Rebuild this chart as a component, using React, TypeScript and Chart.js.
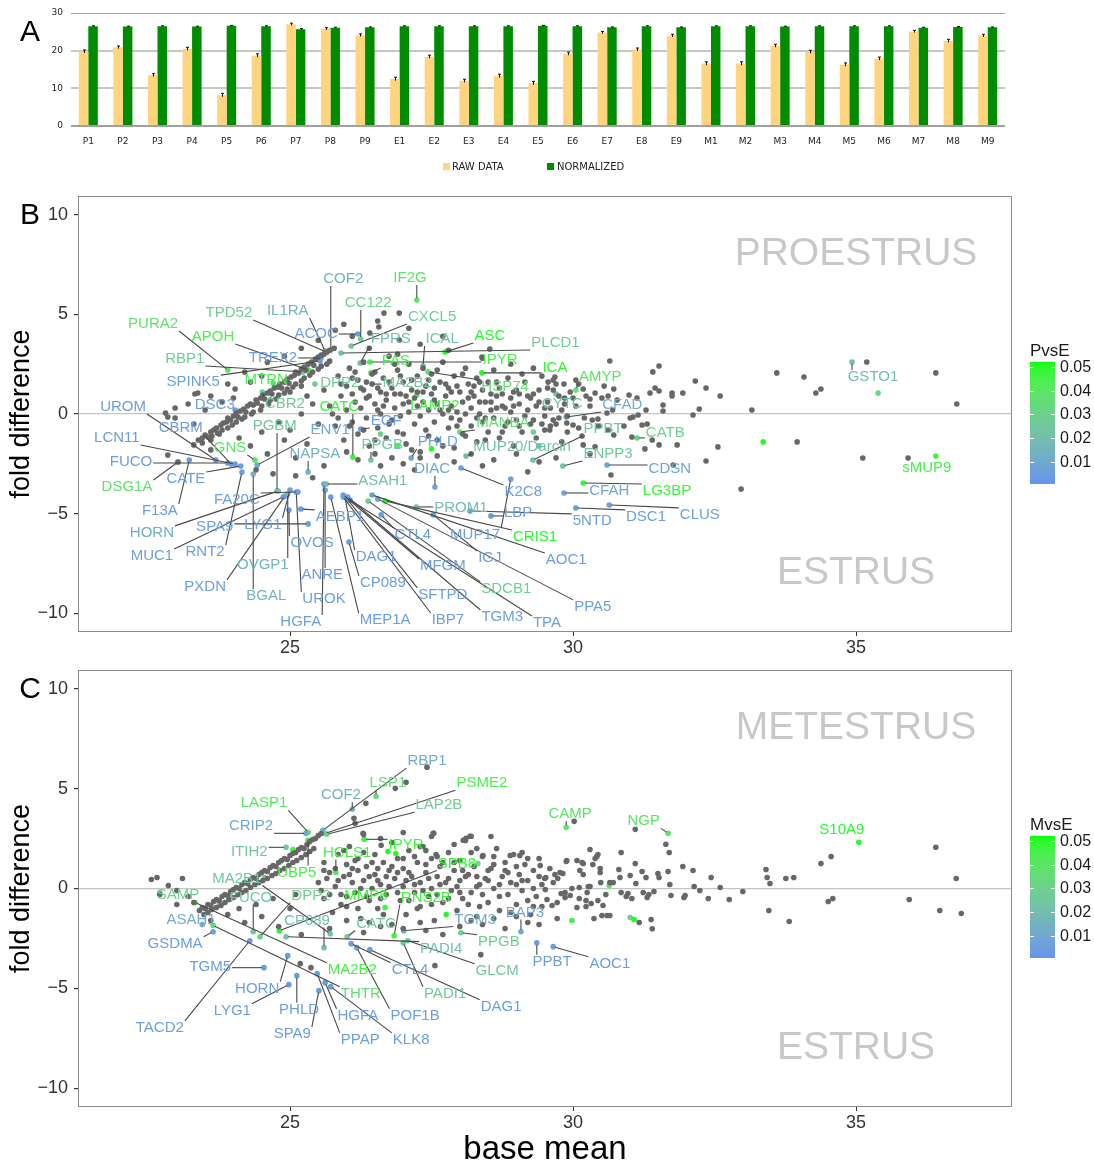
import React, { useEffect, useRef } from 'react';
import { Chart, registerables } from 'chart.js';

Chart.register(...registerables);

// ---------- Panel A: library sizes per sample ----------
const SAMPLES = ['P1', 'P2', 'P3', 'P4', 'P5', 'P6', 'P7', 'P8', 'P9', 'E1', 'E2', 'E3', 'E4', 'E5', 'E6', 'E7', 'E8', 'E9', 'M1', 'M2', 'M3', 'M4', 'M5', 'M6', 'M7', 'M8', 'M9'];
const RAW_DATA = [19.8, 20.9, 13.5, 20.5, 8.2, 18.7, 27.0, 25.8, 24.1, 12.5, 18.4, 12.0, 13.3, 11.4, 19.2, 24.8, 20.3, 24.0, 16.6, 16.6, 21.3, 19.7, 16.3, 17.9, 25.1, 22.6, 24.0];
const RAW_ERR = [0.4, 0.35, 0.4, 0.4, 0.45, 0.45, 0.3, 0.3, 0.35, 0.45, 0.4, 0.4, 0.45, 0.45, 0.4, 0.3, 0.4, 0.35, 0.45, 0.45, 0.4, 0.4, 0.45, 0.4, 0.3, 0.4, 0.35];
const NORMALIZED = [26.5, 26.4, 26.5, 26.4, 26.6, 26.5, 25.7, 26.1, 26.2, 26.5, 26.5, 26.5, 26.5, 26.6, 26.5, 26.2, 26.5, 26.2, 26.5, 26.5, 26.4, 26.5, 26.5, 26.5, 26.1, 26.3, 26.2];
const NORM_ERR = [0.1, 0.1, 0.1, 0.1, 0.1, 0.1, 0.15, 0.12, 0.1, 0.1, 0.1, 0.1, 0.1, 0.1, 0.1, 0.1, 0.1, 0.1, 0.1, 0.1, 0.1, 0.1, 0.1, 0.1, 0.12, 0.1, 0.1];
const A_Y_TICKS = [0, 10, 20, 30];

// ---------- Shared MA-plot axes ----------
const X_MIN = 21.254;
const X_MAX = 37.756;
const Y_MIN = -10.93;
const Y_MAX = 10.93;
const X_TICKS = [25, 30, 35];
const Y_TICKS = [-10, -5, 0, 5, 10];
const P_TICKS = [0.01, 0.02, 0.03, 0.04, 0.05];
const P_RANGE = [0.0008, 0.0521];
const WATERMARK_X = 35;
const WATERMARK_Y = 8;

// ---------- Panel B: proestrus vs estrus ----------
const B_GRAY = [
  [23.30,-1.55],[23.38,-1.30],[23.45,-1.20],[23.50,-1.05],[23.55,-1.15],[23.60,-0.90],[23.65,-0.80],[23.70,-0.70],[23.72,-0.95],[23.78,-0.55],[23.82,-0.45],[23.88,-0.40],[23.90,-0.20],[23.95,-0.30],[24.00,-0.10],[24.05,0.05],[24.08,-0.15],[24.12,0.15],[24.18,0.25],[24.22,0.10],[24.25,0.40],[24.30,0.50],[24.35,0.45],[24.40,0.70],[24.42,0.55],[24.48,0.80],[24.52,0.95],[24.55,0.75],[24.60,1.05],[24.65,1.15],[24.68,1.00],[24.72,1.30],[24.78,1.35],[24.82,1.50],[24.85,1.30],[24.90,1.60],[24.95,1.75],[24.98,1.55],[25.02,1.85],[25.08,1.95],[25.10,2.10],[25.15,2.05],[25.20,2.25],[25.25,2.35],[25.28,2.20],[25.32,2.50],[25.38,2.60],[25.42,2.45],[25.45,2.75],[25.50,2.85],[25.55,2.95],[25.60,3.00],[25.65,3.10],[25.70,3.20],[25.78,3.30],
  [23.60,-1.30],[23.75,-1.00],[23.90,-0.70],[24.05,-0.40],[24.20,-0.15],[24.35,0.10],[24.50,0.40],[24.65,0.70],[24.80,0.95],[24.95,1.25],[25.10,1.50],[25.25,1.80],[25.40,2.10],[25.55,2.40],[25.70,2.65],
  [23.45,-1.45],[23.62,-1.10],[23.80,-0.80],[23.98,-0.55],[24.15,-0.25],[24.32,0.00],[24.48,0.20],[24.62,0.50],[24.75,0.75],[24.90,1.05],[25.05,1.35],[25.20,1.65],[25.35,1.95],[25.50,2.25],[25.65,2.50],
  [25.6,1.2],[25.7,0.4],[25.8,-0.6],[25.85,1.9],[25.9,0.9],[25.95,-1.3],[26.0,1.4],[26.0,0.2],[26.05,2.3],[26.1,-0.4],[26.1,1.0],[26.15,0.6],[26.2,1.7],[26.2,-1.0],[26.25,0.3],[26.3,1.2],[26.3,2.6],[26.35,-0.2],[26.4,0.9],[26.4,-1.6],[26.45,1.5],[26.5,0.5],[26.5,2.1],[26.55,-0.7],[26.6,1.1],[26.6,0.0],[26.65,1.8],[26.7,-1.2],[26.7,0.7],[26.75,2.9],[26.8,1.3],[26.8,-0.3],[26.85,0.3],[26.9,2.2],[26.9,-0.9],[26.95,1.0],[27.0,0.5],[27.0,1.6],[27.05,-1.5],[27.1,0.1],[27.1,2.5],[27.15,1.2],[27.2,-0.5],[27.2,0.8],[27.25,1.9],[27.3,-0.1],[27.3,-1.9],[27.35,0.6],[27.4,1.4],[27.4,-0.8],[27.45,0.2],[27.5,2.0],[27.5,1.0],[27.55,-0.4],[27.6,0.5],[27.6,-1.3],[27.65,1.6],[27.7,0.0],[27.7,2.6],[27.75,0.9],[27.8,-0.7],[27.8,1.3],[27.85,0.4],[27.9,-1.7],[27.9,1.9],[27.95,0.1],[28.0,1.1],[28.0,-0.3],[28.05,0.6],[28.1,2.3],[28.1,-1.1],[28.15,1.5],[28.2,0.3],[28.2,-0.6],[28.25,0.9],[28.3,1.8],[28.3,-1.4],[28.35,0.0],[28.4,1.2],[28.4,-0.4],[28.45,0.6],[28.5,-0.9],[28.5,1.6],[28.55,0.2],[28.6,2.2],[28.6,-0.2],[28.65,0.9],[28.7,-1.2],[28.7,1.3],[28.75,0.4],[28.8,-0.6],[28.85,1.8],[28.9,0.1],[28.9,0.8],[28.95,-1.6],[29.0,1.2],[29.0,-0.3],[29.05,0.5],[29.1,-0.9],[29.15,1.6],[29.2,0.2],[29.25,-0.5],[29.3,1.0],[29.35,-1.2],[29.4,0.6],[29.45,1.9],[29.5,-0.1],[29.5,-0.8],[29.55,1.3],[29.6,0.3],[29.7,-0.5],[29.75,0.9],[29.8,-1.4],[29.85,0.5],[29.9,-0.1],[29.95,1.1],[30.05,0.4],[30.1,-0.7],
  [26.1,1.8],[26.25,1.3],[26.35,0.8],[26.45,2.0],[26.55,1.3],[26.65,0.4],[26.75,1.6],[26.85,1.0],[26.95,1.9],[27.05,0.9],[27.15,1.7],[27.25,0.4],[27.35,1.1],[27.45,1.7],[27.55,0.7],[27.65,0.2],[27.75,1.5],[27.85,-0.2],[27.95,1.4],[28.05,-1.0],[28.15,0.8],[28.25,1.4],[28.35,0.6],[28.45,-0.2],[28.55,1.0],[28.65,0.3],[28.75,1.0],[28.85,-0.4],[28.95,0.4],[29.05,1.0],[29.15,-0.1],[29.25,0.8],[29.35,0.4],[29.45,-0.5],[29.55,0.6],[29.65,1.2],[29.75,-0.2],[29.85,0.8],
  [25.75,0.0],[25.85,-0.2],[25.9,1.5],[26.05,-0.6],[26.15,2.1],[26.3,-0.8],[26.35,1.6],[26.5,-1.3],[26.55,0.2],[26.7,1.0],[26.75,-0.5],[26.85,2.5],[26.95,-0.1],[27.0,-1.0],[27.1,0.6],[27.15,-1.8],[27.25,1.1],[27.35,2.3],[27.45,-1.1],[27.55,1.3],[27.6,2.2],[27.7,-1.6],[27.8,0.2],[27.85,1.1],[27.95,-0.6],[28.05,2.0],[28.1,0.0],[28.2,1.1],[28.3,-0.2],[28.35,1.6],[28.45,-1.3],[28.55,0.6],[28.65,1.6],[28.75,-0.9],[28.8,0.3],[28.95,1.1],[29.05,-0.6],[29.1,2.0],[29.2,0.9],[29.3,-0.3],[29.4,1.2],[29.5,0.3],[29.6,-0.6],[29.7,1.5],[29.8,0.2],[29.9,-0.9],[30.0,0.8],[30.1,1.5],[30.2,-0.2],[30.3,0.4],[30.45,-0.6],[30.55,1.4],[30.7,0.2],[30.9,-0.6],
  [26.0,-1.9],[26.2,-2.3],[26.5,-2.0],[26.8,-2.2],[27.0,-2.5],[27.3,-2.2],[27.6,-2.1],[27.9,-2.4],[28.2,-2.0],[28.6,-2.3],[29.0,-2.0],[29.4,-2.4],[26.6,-2.6],[27.2,-2.8],[28.4,-2.6],[29.2,-2.9],[29.7,-2.2],[30.3,-2.0],
  [26.4,3.3],[26.9,3.0],[27.3,3.5],[27.8,3.2],[28.4,2.8],[28.9,2.5],[29.3,2.3],
  [26.66,5.06],[26.93,5.06],[26.55,4.66],[26.57,4.36],[26.41,4.06],[26.93,3.71],[28.53,3.26],[28.39,2.86],[27.1,4.3],[27.7,3.9],
  [22.8,0.05],[22.84,-0.15],[22.97,-0.20],[22.97,0.30],[23.32,1.00],[23.37,1.05],[24.03,1.25],[22.84,-2.06],[23.02,-2.41],[23.2,0.5],[23.5,0.2],[23.6,0.9],[23.8,0.6],[24.0,0.8],[24.3,1.6],[24.5,1.9],[24.2,2.1],[23.9,1.5],[23.3,-0.5],[23.6,-1.8],[24.1,-1.2],[24.3,-1.6],[24.5,-0.9],[24.6,-2.0],[24.8,-0.4],[24.9,-1.3],[25.0,-0.8],[25.1,-2.2],[25.2,0.0],[25.3,-1.5],[25.4,0.5],[25.5,-0.5],[25.3,0.9],[25.1,-3.1],[24.7,-3.0],[24.4,-2.8],[25.6,-2.6],[25.4,-3.2],[25.0,1.1],[25.2,1.4],
  [24.6,2.6],[24.9,2.9],[25.2,3.3],[25.5,3.7],[25.8,4.2],[25.95,4.5],[26.1,3.9],
  [30.65,2.66],[31.52,2.41],[31.41,2.11],[29.68,1.85],[29.65,1.70],[30.05,1.70],[32.16,1.65],[32.35,1.30],[30.72,1.25],[31.45,1.30],[31.36,1.05],[31.52,1.15],[31.75,1.05],[31.75,0.90],[31.94,1.05],[32.60,0.90],[33.60,2.06],[34.08,1.85],[34.29,1.05],[34.38,1.25],[35.19,2.61],[36.41,2.06],[36.78,0.50],[33.16,0.20],[32.23,0.25],[31.59,0.45],[31.59,0.15],[31.29,0.20],[31.13,0.80],[30.99,0.95],[30.78,0.70],[30.62,0.90],[30.51,0.80],[30.39,1.05],[30.30,0.75],[30.18,1.25],[30.23,0.90],[29.84,1.50],[29.56,1.60],
  [33.96,-1.40],[32.56,-1.65],[32.35,-2.36],[32.97,-3.76],[35.12,-2.21],[35.92,-2.21],[30.67,-3.06],[31.77,-2.56],[31.84,-1.55],[31.52,-1.55],[31.40,-1.30],[31.27,-1.75],[31.22,-0.55],[31.31,-0.50],[31.04,-1.15],[30.72,-1.05],[30.62,-0.80],[30.60,0.05],[30.39,-1.65],[30.16,-1.10],[30.18,-1.55],[30.00,-0.55],[29.89,-0.45],[29.65,-0.30],[29.59,-0.80],[31.15,-0.05],[31.06,-0.15],[31.01,-0.20],[30.34,-0.30],[30.44,-0.25],[32.12,-0.05],
];

const B_GENES = ['COF2','IF2G','CC122','TPD52','IL1RA','ACOC','CXCL5','FPRS','ICAL','ASC','PLCD1','PURA2','APOH','RBP1','TREX2','SPINK5','MTRN','DPP2','MA2B2','FAS','IPYR','HSP74','ICA','LAMP2','CATC','CBR2','DSC3','UROM','CBRM','LCN11','FUCO','DSG1A','CATE','F13A','HORN','MUC1','SPA9','RNT2','FA20C','LYG1','PXDN','OVGP1','BGAL','AEBP1','OVOS','ANRE','UROK','HGFA','DAG1','CP089','MEP1A','CTL4','MFGM','SFTPD','IBP7','TGM3','TPA','SDCB1','PPA5','IGJ','MUP17','K2C8','DIAC','ASAH1','PROM1','LBP','CRIS1','5NTD','AOC1','EGF','ENV1','PGBM','GNS','NAPSA','PPGB','PHLD','MANBA','MUP20/Darcin','CYTC','AMYP','CFAD','PPBT','CATB','ENPP3','CDSN','CFAH','LG3BP','DSC1','CLUS','sMUP9','GSTO1'];
const B_GENE_XY = [[25.72,3.21],[27.24,5.71],[26.25,3.76],[25.64,3.11],[25.62,3.16],[26.20,4.01],[26.08,3.41],[26.24,2.56],[27.35,2.41],[27.74,3.11],[25.90,3.06],[23.90,2.21],[25.32,2.21],[25.23,2.11],[25.55,2.81],[25.53,2.66],[24.70,1.55],[25.44,1.50],[26.45,1.50],[26.43,2.06],[26.41,2.61],[27.44,2.11],[28.39,2.06],[27.24,0.95],[26.11,-2.16],[24.51,1.10],[24.03,0.20],[23.69,-2.31],[23.96,-2.51],[24.03,-2.51],[23.90,-2.46],[23.02,-2.41],[24.13,-2.61],[23.22,-2.31],[24.79,-3.86],[24.88,-4.16],[25.32,-5.51],[24.15,-2.91],[25.14,-3.91],[25.00,-3.81],[24.91,-4.11],[24.96,-4.01],[24.35,-3.01],[25.19,-4.76],[24.98,-4.81],[25.62,-3.81],[25.11,-3.91],[25.60,-3.51],[25.97,-4.16],[26.04,-6.42],[25.72,-4.16],[26.61,-5.06],[25.94,-4.06],[26.01,-4.26],[25.94,-4.16],[26.02,-4.16],[26.06,-4.31],[26.38,-4.36],[26.55,-4.26],[27.53,-5.06],[28.90,-3.26],[28.02,-2.71],[27.56,-3.66],[25.64,-3.51],[27.23,-4.66],[28.55,-5.11],[26.68,-4.36],[28.18,-4.86],[26.45,-4.06],[26.25,-0.75],[24.42,-2.56],[24.77,-3.86],[24.38,-2.31],[25.32,-2.91],[26.43,-2.31],[27.14,-2.21],[28.00,-0.90],[28.11,-2.11],[29.70,1.00],[30.05,1.20],[29.88,-0.15],[29.29,-2.31],[31.13,-1.20],[29.82,-2.61],[30.60,-2.56],[29.84,-3.96],[30.18,-3.46],[30.05,-4.71],[30.64,-4.56],[36.41,-2.11],[34.93,2.61]];
const B_TEXT_XY = [[25.94,6.77],[27.12,6.82],[26.38,5.56],[23.92,5.06],[24.96,5.16],[25.46,4.01],[27.51,4.86],[26.78,3.76],[27.69,3.76],[28.53,3.91],[29.69,3.56],[22.58,4.51],[23.64,3.86],[23.14,2.76],[24.70,2.81],[23.29,1.60],[24.58,1.70],[25.88,1.55],[27.07,1.55],[26.87,2.66],[28.71,2.71],[28.80,1.35],[29.68,2.31],[27.56,0.40],[25.87,0.35],[24.91,0.50],[23.67,0.45],[22.05,0.35],[23.07,-0.70],[21.94,-1.20],[22.19,-2.41],[22.12,-3.66],[23.16,-3.26],[22.70,-4.86],[22.56,-5.96],[22.56,-7.12],[23.67,-5.66],[23.50,-6.92],[24.06,-4.31],[24.52,-5.56],[23.50,-8.67],[24.52,-7.57],[24.58,-9.12],[25.88,-5.16],[25.39,-6.47],[25.57,-8.07],[25.60,-9.27],[25.19,-10.43],[26.52,-7.17],[26.64,-8.47],[26.68,-10.33],[27.17,-6.07],[27.70,-7.62],[27.70,-9.07],[27.79,-10.33],[28.75,-10.18],[29.54,-10.48],[28.82,-8.77],[30.35,-9.67],[28.53,-7.22],[28.27,-6.07],[29.12,-3.91],[27.51,-2.76],[26.64,-3.36],[28.02,-4.71],[29.03,-4.96],[29.33,-6.17],[30.34,-5.36],[29.88,-7.32],[26.70,-0.35],[25.71,-0.80],[24.73,-0.60],[23.94,-1.70],[25.44,-2.01],[26.63,-1.55],[27.61,-1.40],[28.76,-0.45],[29.10,-1.65],[29.81,0.50],[30.48,1.85],[30.87,0.45],[30.53,-0.75],[31.63,-0.95],[30.62,-2.01],[31.71,-2.76],[30.64,-3.86],[31.66,-3.86],[31.29,-5.16],[32.24,-5.06],[36.25,-2.71],[35.30,1.85]];
const B_PVAL = [0.015,0.04,0.03,0.028,0.015,0.006,0.028,0.02,0.022,0.05,0.025,0.038,0.045,0.028,0.005,0.006,0.045,0.028,0.025,0.045,0.045,0.035,0.05,0.045,0.048,0.028,0.005,0.004,0.005,0.004,0.004,0.038,0.005,0.005,0.012,0.006,0.006,0.005,0.006,0.005,0.005,0.015,0.015,0.005,0.006,0.005,0.005,0.006,0.005,0.005,0.005,0.005,0.005,0.005,0.005,0.005,0.005,0.03,0.005,0.005,0.006,0.005,0.008,0.02,0.02,0.005,0.05,0.006,0.005,0.005,0.01,0.025,0.04,0.015,0.025,0.008,0.035,0.02,0.022,0.04,0.012,0.022,0.03,0.025,0.008,0.008,0.048,0.005,0.006,0.045,0.02];
const B_EXTRA_XY = [[35.39,1.05],[33.36,-1.40],[26.9,-1.6],[27.5,-1.75],[26.6,-1.0],[29.3,-0.9],[29.4,-1.6]];
const B_EXTRA_P = [0.035,0.05,0.045,0.05,0.03,0.03,0.025];

// ---------- Panel C: metestrus vs estrus ----------
const C_GRAY = [
  [23.40,-1.10],[23.45,-0.95],[23.50,-1.00],[23.55,-0.80],[23.60,-0.85],[23.65,-0.65],[23.70,-0.55],[23.75,-0.60],[23.80,-0.40],[23.85,-0.30],[23.90,-0.35],[23.95,-0.15],[24.00,-0.05],[24.05,0.05],[24.10,0.00],[24.15,0.20],[24.20,0.30],[24.25,0.25],[24.30,0.45],[24.35,0.55],[24.40,0.50],[24.45,0.70],[24.50,0.80],[24.55,0.90],[24.60,0.85],[24.65,1.05],[24.70,1.15],[24.75,1.10],[24.80,1.30],[24.85,1.40],[24.90,1.50],[24.95,1.45],[25.00,1.65],[25.05,1.75],[25.10,1.80],[25.15,1.95],[25.20,2.05],[25.25,2.00],[25.30,2.20],[25.35,2.35],[25.40,2.45],[25.45,2.50],[25.50,2.65],[25.55,2.75],
  [23.55,-1.20],[23.70,-0.95],[23.85,-0.70],[24.00,-0.45],[24.15,-0.20],[24.30,0.05],[24.45,0.30],[24.60,0.50],[24.75,0.75],[24.90,1.00],[25.05,1.30],[25.20,1.55],[25.35,1.85],
  [23.48,-1.30],[23.62,-1.05],[23.78,-0.85],[23.92,-0.55],[24.08,-0.30],[24.22,-0.10],[24.38,0.20],[24.52,0.40],[24.68,0.65],[24.82,0.90],[24.98,1.15],[25.12,1.40],[25.28,1.70],[25.42,2.00],
  [22.55,0.45],[22.65,0.55],[22.85,0.15],[23.0,-0.1],[22.7,-0.3],[23.1,0.5],[23.2,-0.4],[23.3,-0.7],[23.0,-0.8],[23.6,-1.6],[23.9,-1.3],[24.1,-1.0],[24.2,-1.7],[24.4,-0.8],[24.5,-1.4],[24.7,-0.5],[24.8,-1.9],[25.0,-1.0],[25.1,-0.3],[25.2,-2.3],[25.18,-3.76],[25.37,-3.96],[27.56,-3.86],[28.37,-3.31],
  [25.5,0.3],[25.6,-0.5],[25.6,1.3],[25.7,0.8],[25.75,-1.2],[25.8,0.1],[25.85,1.7],[25.9,-0.3],[25.95,0.6],[26.0,1.2],[26.0,-0.9],[26.05,2.1],[26.1,0.3],[26.15,-0.2],[26.2,0.9],[26.2,1.5],[26.25,-1.5],[26.3,0.4],[26.35,1.1],[26.4,-0.6],[26.45,0.0],[26.5,1.7],[26.5,0.7],[26.55,-1.0],[26.6,0.2],[26.65,1.3],[26.7,-0.3],[26.75,0.9],[26.8,2.3],[26.8,-1.8],[26.85,0.5],[26.9,1.5],[26.95,-0.6],[27.0,0.1],[27.0,1.0],[27.05,-1.3],[27.1,1.9],[27.15,0.6],[27.2,-0.2],[27.25,1.3],[27.3,0.3],[27.3,-0.9],[27.35,2.1],[27.4,0.8],[27.45,-0.4],[27.5,1.5],[27.5,0.0],[27.55,-1.6],[27.6,0.6],[27.65,1.1],[27.7,-0.7],[27.75,0.3],[27.8,1.8],[27.85,-0.1],[27.9,0.9],[27.95,-1.1],[28.0,0.4],[28.0,1.4],[28.05,-0.5],[28.1,2.4],[28.15,0.7],[28.2,-0.2],[28.25,1.1],[28.3,-1.4],[28.35,0.2],[28.4,1.6],[28.45,0.5],[28.5,-0.7],[28.55,1.0],[28.6,0.0],[28.65,2.0],[28.7,-1.1],[28.75,0.6],[28.8,1.3],[28.85,-0.3],[28.9,0.3],[28.95,1.7],[29.0,-0.8],[29.05,0.7],[29.1,-0.1],[29.15,1.2],[29.2,0.4],[29.25,-1.3],[29.3,0.9],[29.35,-0.4],[29.4,1.5],[29.45,0.2],
  [25.55,-0.1],[25.65,0.5],[25.8,1.0],[25.9,-0.8],[26.05,0.7],[26.15,1.4],[26.25,0.0],[26.4,0.6],[26.55,1.0],[26.6,-0.5],[26.75,0.1],[26.9,0.8],[27.05,0.4],[27.1,-0.6],[27.2,1.6],[27.35,-0.1],[27.45,0.5],[27.6,-0.3],[27.7,1.3],[27.8,0.5],[27.95,0.1],[28.05,0.9],[28.15,-0.8],[28.3,0.6],[28.4,-0.3],[28.5,0.9],[28.6,1.6],[28.7,0.2],[28.85,0.8],[29.0,0.2],[29.1,1.8],[29.2,-0.6],[29.3,0.0],[29.45,-0.9],
  [25.6,0.9],[25.7,-0.3],[25.85,0.4],[25.95,1.9],[26.0,-0.4],[26.1,1.0],[26.2,-1.0],[26.3,1.8],[26.35,-0.4],[26.45,1.3],[26.55,0.4],[26.65,-1.3],[26.7,0.6],[26.8,1.1],[26.9,-0.2],[27.0,1.5],[27.1,0.8],[27.2,0.2],[27.25,-1.0],[27.4,1.2],[27.5,-0.8],[27.6,1.6],[27.65,0.2],[27.8,-0.5],[27.9,1.3],[28.0,-0.2],[28.1,0.6],[28.2,1.8],[28.3,0.1],[28.35,-0.9],[28.5,0.4],[28.6,1.2],[28.7,-0.4],[28.8,0.9],[28.9,-1.2],[29.0,1.1],[29.1,0.4],[29.2,1.5],[29.3,-0.9],[29.4,0.6],[29.5,0.5],
  [25.7,-2.0],[26.0,-1.6],[26.3,-2.2],[26.6,-1.9],[27.0,-2.0],[27.3,-1.7],[27.7,-2.3],[28.0,-1.9],[28.4,-1.8],[28.8,-2.0],[29.2,-1.7],[26.4,-1.7],[27.4,-2.1],[28.2,-1.6],[28.6,-1.5],[29.0,-1.4],[29.4,-1.8],
  [26.3,2.7],[26.6,2.5],[27.0,2.8],[27.5,2.6],[27.9,2.2],[28.3,2.0],[28.55,2.6],[28.11,2.51],[28.20,2.61],[27.54,2.76],[27.3,2.1],[26.86,5.01],[27.05,5.31],[27.42,6.07],[26.34,4.26],[26.13,3.51],[26.15,3.26],[26.29,2.76],[26.61,2.16],[27.40,1.90],[27.58,1.70],[27.53,2.76],[28.18,2.61],[28.06,2.41],[28.41,1.65],[28.89,1.65],[29.06,1.65],[29.42,1.15],[29.89,1.40],[30.18,1.25],
  [30.02,3.36],[31.10,2.96],[30.30,1.95],[30.42,1.60],[30.44,1.70],[30.85,1.80],[31.64,2.21],[31.70,1.80],[31.94,1.10],[32.12,0.90],[32.44,0.55],[32.60,0.05],[33.00,-0.15],[32.76,-0.55],[32.39,-0.50],[32.24,-0.10],[32.14,0.10],[31.96,-0.45],[31.98,-0.35],[31.73,-0.35],[31.71,0.20],[31.68,0.85],[31.50,0.75],[31.52,0.55],[31.43,-0.15],[31.31,-0.45],[31.34,-0.30],[31.24,-0.20],[31.10,1.25],[31.22,0.85],[31.29,0.55],[31.01,0.65],[31.11,0.25],[31.17,-1.70],[31.38,-1.55],[31.40,-2.01],[30.94,-0.40],[31.04,-0.50],[30.81,0.95],[30.83,0.55],[30.65,0.30],[30.71,0.30],[30.58,-0.30],[30.49,0.30],[30.48,1.00],[30.48,0.80],[30.35,1.20],[30.39,1.50],[30.30,0.10],[30.25,-0.20],[30.23,-0.60],[30.12,0.90],[30.18,0.70],[30.07,1.40],[30.16,1.30],[29.88,1.35],[30.07,-0.95],[30.23,-0.90],[30.32,-0.75],[30.37,-1.50],[30.51,-1.35],[30.60,-1.35],[30.65,-1.35],[30.44,-0.60],[30.53,-0.85],[29.72,-1.50],[29.72,-0.70],[29.63,-0.85],[29.54,-0.55],[29.86,-0.20],[29.86,-0.45],[29.95,-0.35],[29.79,-0.25],[29.77,0.80],[29.82,0.75],[29.68,0.70],[29.73,0.50],[29.59,1.00],[29.52,0.55],[29.65,0.30],[29.51,-0.05],[30.11,0.05],[30.11,-0.50],[29.98,0.00],[30.27,0.10],[30.85,-0.20],[30.97,-0.25],[33.41,0.95],[33.43,0.55],[33.48,0.25],[33.46,-1.10],[33.76,0.50],[33.90,0.55],[33.82,-1.65],[34.38,1.25],[34.56,1.60],[34.51,-0.65],[34.59,-0.50],[35.94,-0.55],[36.41,2.06],[36.77,0.50],[36.48,-1.10],[36.86,-1.25],
];

const C_GENES = ['RBP1','LSP1','PSME2','LAP2B','COF2','LASP1','CRIP2','ITIH2','HCLS1','IPYR','SPB8','UBP5','MA2B1','SAMP','MA2B2','THTR','ASAH1','GSDMA','FUCO','DPP2','TACD2','TGM5','HORN','LYG1','PHLD','SPA9','HGFA','PPAP','KLK8','POF1B','CTL4','MMP8','RNS2B','CP089','CATC','TGM3','PADI4','PPGB','GLCM','PADI1','DAG1','BAP3','PPBT','AOC1','CAMP','NGP','S10A9'];
const C_GENE_XY = [[25.58,2.91],[26.52,4.61],[25.62,2.76],[25.65,2.71],[26.10,3.96],[25.32,2.81],[25.28,2.76],[24.93,2.06],[25.81,0.80],[26.31,2.46],[24.81,-2.11],[25.32,2.41],[25.71,-2.26],[22.70,-0.20],[23.32,-0.70],[23.64,-1.85],[23.45,-1.80],[23.64,-2.16],[24.35,-2.16],[24.47,-2.41],[24.29,-2.61],[24.54,-3.96],[24.96,-3.36],[24.98,-4.81],[25.12,-4.36],[25.51,-5.11],[25.62,-4.71],[25.48,-4.26],[25.72,-4.91],[26.18,-2.96],[26.08,-2.76],[26.68,-0.95],[26.84,-2.36],[25.60,-2.96],[26.01,-2.41],[27.01,-2.11],[24.93,-2.41],[28.02,-2.21],[27.08,-2.61],[27.00,-2.71],[26.41,-3.06],[29.08,-2.16],[29.36,-2.71],[29.65,-2.91],[29.88,3.06],[31.68,2.76],[35.05,2.31]];
const C_TEXT_XY = [[27.42,6.37],[26.73,5.26],[28.39,5.26],[27.63,4.16],[25.90,4.66],[24.54,4.26],[24.31,3.11],[24.28,1.85],[26.01,1.80],[27.05,2.16],[27.95,1.25],[25.12,0.80],[24.06,0.50],[23.02,-0.30],[26.10,-4.06],[26.25,-5.26],[23.25,-1.55],[22.97,-2.76],[24.31,-0.45],[25.37,-0.35],[22.70,-6.97],[23.59,-3.91],[24.42,-5.01],[23.98,-6.12],[25.16,-6.07],[25.04,-7.27],[26.20,-6.37],[26.24,-7.57],[27.14,-7.57],[27.21,-6.37],[27.12,-4.06],[26.34,-0.35],[27.40,-0.45],[25.30,-1.60],[26.52,-1.75],[28.27,-1.55],[27.67,-3.01],[28.69,-2.66],[28.66,-4.11],[27.74,-5.26],[28.73,-5.91],[29.15,-1.20],[29.63,-3.66],[30.65,-3.76],[29.95,3.71],[31.25,3.36],[34.75,2.91]];
const C_PVAL = [0.012,0.035,0.045,0.028,0.015,0.042,0.01,0.025,0.045,0.048,0.05,0.045,0.025,0.03,0.045,0.035,0.012,0.005,0.025,0.03,0.005,0.005,0.005,0.005,0.005,0.005,0.005,0.005,0.005,0.005,0.005,0.048,0.048,0.02,0.025,0.012,0.022,0.03,0.025,0.025,0.005,0.01,0.005,0.005,0.04,0.04,0.05];
const C_EXTRA_XY = [[30.64,0.15],[31.01,-1.45],[31.08,-1.55],[29.98,-1.60],[26.73,1.85],[26.87,1.75],[27.76,-1.30],[28.32,1.25],[25.05,1.95],[24.55,0.55],[23.75,-0.75]];
const C_EXTRA_P = [0.045,0.03,0.05,0.045,0.05,0.05,0.05,0.035,0.045,0.03,0.04];

// ---------- Styling ----------
const FONT = "'Liberation Sans', Arial, Helvetica, sans-serif";
const GRAY_POINT = '#676767';
const LOW_COLOR = [100, 149, 237];
const HIGH_COLOR = [0, 255, 0];

// Colour ramp interpolated in CIELAB, low p-value -> blue, high -> green
function toLin(c: number) { c /= 255; return c <= 0.04045 ? c / 12.92 : Math.pow((c + 0.055) / 1.055, 2.4); }
function fromLin(c: number) { const v = c <= 0.0031308 ? 12.92 * c : 1.055 * Math.pow(c, 1 / 2.4) - 0.055; return Math.round(Math.max(0, Math.min(1, v)) * 255); }
function rgbToLab(rgb: number[]) {
  const R = toLin(rgb[0]), G = toLin(rgb[1]), B = toLin(rgb[2]);
  const X = (0.4124 * R + 0.3576 * G + 0.1805 * B) / 0.95047;
  const Y = 0.2126 * R + 0.7152 * G + 0.0722 * B;
  const Z = (0.0193 * R + 0.1192 * G + 0.9505 * B) / 1.08883;
  const f = (t: number) => (t > 0.008856 ? Math.cbrt(t) : 7.787 * t + 16 / 116);
  return [116 * f(Y) - 16, 500 * (f(X) - f(Y)), 200 * (f(Y) - f(Z))];
}
function labToRgb(lab: number[]) {
  const fy = (lab[0] + 16) / 116, fx = fy + lab[1] / 500, fz = fy - lab[2] / 200;
  const inv = (t: number) => (t * t * t > 0.008856 ? t * t * t : (t - 16 / 116) / 7.787);
  const X = inv(fx) * 0.95047, Y = inv(fy), Z = inv(fz) * 1.08883;
  const R = 3.2406 * X - 1.5372 * Y - 0.4986 * Z;
  const G = -0.9689 * X + 1.8758 * Y + 0.0415 * Z;
  const B = 0.0557 * X - 0.204 * Y + 1.057 * Z;
  return [fromLin(R), fromLin(G), fromLin(B)];
}
const LOW_LAB = rgbToLab(LOW_COLOR);
const HIGH_LAB = rgbToLab(HIGH_COLOR);
function pColor(p: number) {
  const t = Math.max(0, Math.min(1, (p - P_RANGE[0]) / (P_RANGE[1] - P_RANGE[0])));
  const lab = [0, 1, 2].map((i) => LOW_LAB[i] + (HIGH_LAB[i] - LOW_LAB[i]) * t);
  const c = labToRgb(lab);
  return `rgb(${c[0]},${c[1]},${c[2]})`;
}
const minusFmt = (v: number) => (v < 0 ? '\u2212' + Math.abs(v) : String(v));

// ---------- Panel A config ----------
function barConfig(): any {
  const errorBars = {
    id: 'errorBars',
    afterDatasetsDraw(chart: any) {
      const ctx = chart.ctx;
      const ys = chart.scales.y;
      const errs = [RAW_ERR, NORM_ERR];
      ctx.save();
      ctx.strokeStyle = '#111';
      ctx.lineWidth = 1;
      [0, 1].forEach((di) => {
        const meta = chart.getDatasetMeta(di);
        const vals = chart.data.datasets[di].data as number[];
        meta.data.forEach((el: any, i: number) => {
          const top = ys.getPixelForValue(vals[i] + errs[di][i]);
          const bot = ys.getPixelForValue(vals[i] - errs[di][i]);
          const x = Math.round(el.x) + 0.5;
          ctx.beginPath();
          ctx.moveTo(x, top); ctx.lineTo(x, bot);
          ctx.moveTo(x - 1.5, top); ctx.lineTo(x + 1.5, top);
          ctx.stroke();
        });
      });
      ctx.restore();
    },
    afterDraw(chart: any) {
      const ctx = chart.ctx;
      ctx.save();
      ctx.fillStyle = '#000';
      ctx.font = `30px ${FONT}`;
      ctx.textAlign = 'center';
      ctx.textBaseline = 'middle';
      ctx.fillText('A', 30, 33);
      ctx.font = "10px 'DejaVu Sans', sans-serif";
      ctx.textAlign = 'left';
      ctx.fillStyle = '#ffd47f';
      ctx.fillRect(443, 163, 7, 7);
      ctx.fillStyle = '#008c00';
      ctx.fillRect(547, 163, 7, 7);
      ctx.fillStyle = '#222';
      ctx.fillText(chart.data.datasets[0].label, 452, 167);
      ctx.fillText(chart.data.datasets[1].label, 557, 167);
      ctx.restore();
    },
  };
  return {
    type: 'bar',
    data: {
      labels: SAMPLES,
      datasets: [
        { label: 'RAW DATA', data: RAW_DATA, backgroundColor: '#ffd47f', categoryPercentage: 0.55, barPercentage: 1 },
        { label: 'NORMALIZED', data: NORMALIZED, backgroundColor: '#008c00', categoryPercentage: 0.55, barPercentage: 1 },
      ],
    },
    options: {
      responsive: false,
      animation: false,
      events: [],
      layout: { padding: { left: 0, right: 89, top: 13, bottom: 0 } },
      scales: {
        x: {
          grid: { display: false },
          border: { display: false },
          ticks: { font: { family: "'DejaVu Sans', sans-serif", size: 9 }, color: '#222', padding: 2, maxRotation: 0, autoSkip: false },
          afterFit: (s: any) => { s.height = 58; s.paddingLeft = 0; s.paddingRight = 0; },
        },
        y: {
          min: 0,
          max: 30,
          afterBuildTicks: (s: any) => { s.ticks = A_Y_TICKS.map((v) => ({ value: v })); },
          afterFit: (s: any) => { s.width = 71; s.paddingTop = 0; s.paddingBottom = 0; },
          grid: {
            drawTicks: false,
            color: (c: any) => (c.tick && (c.tick.value === 0 || c.tick.value === 30) ? '#a0a0a0' : '#c6c6c6'),
            lineWidth: (c: any) => (c.tick && c.tick.value === 30 ? 1 : 2),
          },
          border: { display: false },
          ticks: { font: { family: "'DejaVu Sans', sans-serif", size: 9 }, color: '#222', padding: 8 },
        },
      },
      plugins: { legend: { display: false }, tooltip: { enabled: false } },
    },
    plugins: [errorBars],
  };
}

// ---------- MA-plot config ----------
type MASpec = {
  letter: string; gray: number[][]; genes: string[]; geneXY: number[][]; textXY: number[][]; pval: number[];
  extraXY: number[][]; extraP: number[]; upper: string; lower: string; legend: string;
  padTop: number; xAxisH: number; xTitle: string | null;
};

function maConfig(s: MASpec): any {
  const geneColors = s.pval.map(pColor);
  const extraColors = s.extraP.map(pColor);
  const decor = {
    id: 'maDecor',
    beforeDatasetsDraw(chart: any) {
      const ctx = chart.ctx;
      const xs = chart.scales.x, ys = chart.scales.y;
      ctx.save();
      ctx.fillStyle = '#c8c8c8';
      ctx.font = `39px ${FONT}`;
      ctx.textAlign = 'center';
      ctx.textBaseline = 'middle';
      ctx.fillText(s.upper, xs.getPixelForValue(WATERMARK_X), ys.getPixelForValue(WATERMARK_Y));
      ctx.fillText(s.lower, xs.getPixelForValue(WATERMARK_X), ys.getPixelForValue(-WATERMARK_Y));
      ctx.restore();
    },
    afterDatasetsDraw(chart: any) {
      const ctx = chart.ctx;
      const xs = chart.scales.x, ys = chart.scales.y;
      ctx.save();
      ctx.font = `15px ${FONT}`;
      ctx.textAlign = 'center';
      ctx.textBaseline = 'middle';
      // leader segments
      ctx.strokeStyle = '#474747';
      ctx.lineWidth = 1.1;
      s.genes.forEach((g, i) => {
        const px = xs.getPixelForValue(s.geneXY[i][0]);
        const py = ys.getPixelForValue(s.geneXY[i][1]);
        const tx = xs.getPixelForValue(s.textXY[i][0]);
        const ty = ys.getPixelForValue(s.textXY[i][1]);
        const hw = ctx.measureText(g).width / 2 + 1;
        const hh = 7;
        const nx = Math.max(tx - hw, Math.min(px, tx + hw));
        const ny = Math.max(ty - hh, Math.min(py, ty + hh));
        const d = Math.hypot(nx - px, ny - py);
        if (d > 5) {
          const ux = (nx - px) / d, uy = (ny - py) / d;
          ctx.beginPath();
          ctx.moveTo(px + ux * 2, py + uy * 2);
          ctx.lineTo(nx, ny);
          ctx.stroke();
        }
      });
      // gene labels
      s.genes.forEach((g, i) => {
        ctx.fillStyle = geneColors[i];
        ctx.fillText(g, xs.getPixelForValue(s.textXY[i][0]), ys.getPixelForValue(s.textXY[i][1]));
      });
      ctx.restore();
    },
    afterDraw(chart: any) {
      const ctx = chart.ctx;
      const a = chart.chartArea;
      ctx.save();
      // panel border
      ctx.strokeStyle = '#8c8c8c';
      ctx.lineWidth = 1;
      ctx.strokeRect(a.left + 0.5, a.top + 0.5, a.right - a.left - 1, a.bottom - a.top - 1);
      // panel letter
      ctx.fillStyle = '#000';
      ctx.font = `30px ${FONT}`;
      ctx.textAlign = 'center';
      ctx.textBaseline = 'middle';
      ctx.fillText(s.letter, 30, a.top + 20);
      // y title
      ctx.save();
      ctx.translate(22, (a.top + a.bottom) / 2);
      ctx.rotate(-Math.PI / 2);
      ctx.font = `27px ${FONT}`;
      ctx.fillText('fold difference', 0, 0);
      ctx.restore();
      // x title
      if (s.xTitle) {
        ctx.font = `33px ${FONT}`;
        ctx.fillText(s.xTitle, (a.left + a.right) / 2, a.bottom + 43);
      }
      // colour bar
      const barX = 1030, barW = 25;
      const pxPerP = 2383;
      const yOf = (p: number) => a.top + 170.7 + (0.05 - p) * pxPerP;
      const yTop = Math.round(yOf(P_RANGE[1]));
      const yBot = Math.round(yOf(P_RANGE[0]));
      for (let y = yTop; y < yBot; y++) {
        const p = 0.05 - (y + 0.5 - a.top - 170.7) / pxPerP;
        ctx.fillStyle = pColor(p);
        ctx.fillRect(barX, y, barW, 1);
      }
      ctx.strokeStyle = '#ffffff';
      ctx.lineWidth = 1;
      ctx.fillStyle = '#1a1a1a';
      ctx.font = `16px ${FONT}`;
      ctx.textAlign = 'left';
      P_TICKS.forEach((p) => {
        const y = Math.round(yOf(p)) + 0.5;
        ctx.beginPath();
        ctx.moveTo(barX, y); ctx.lineTo(barX + 4, y);
        ctx.moveTo(barX + barW - 4, y); ctx.lineTo(barX + barW, y);
        ctx.stroke();
        ctx.fillText(p.toFixed(2), 1060, y);
      });
      ctx.font = `17px ${FONT}`;
      ctx.fillText(s.legend, 1030, a.top + 155);
      ctx.restore();
    },
  };
  return {
    type: 'scatter',
    data: {
      datasets: [
        {
          data: s.gray.map((p) => ({ x: p[0], y: p[1] })),
          pointRadius: 2.8,
          pointBackgroundColor: GRAY_POINT,
          pointBorderWidth: 0,
        },
        {
          data: [...s.extraXY, ...s.geneXY].map((p) => ({ x: p[0], y: p[1] })),
          pointRadius: 2.8,
          pointBackgroundColor: [...extraColors, ...geneColors],
          pointBorderWidth: 0,
        },
      ],
    },
    options: {
      responsive: false,
      animation: false,
      events: [],
      layout: { padding: { left: 0, right: 82, top: s.padTop, bottom: 0 } },
      scales: {
        x: {
          type: 'linear',
          min: X_MIN,
          max: X_MAX,
          afterBuildTicks: (sc: any) => { sc.ticks = X_TICKS.map((v) => ({ value: v })); },
          afterFit: (sc: any) => { sc.height = s.xAxisH; sc.paddingLeft = 0; sc.paddingRight = 0; },
          grid: { drawOnChartArea: false, drawTicks: true, tickLength: 4, tickColor: '#333', color: '#333' },
          border: { display: false },
          ticks: { font: { family: FONT, size: 18 }, color: '#333', padding: 1, maxRotation: 0 },
        },
        y: {
          type: 'linear',
          min: Y_MIN,
          max: Y_MAX,
          afterBuildTicks: (sc: any) => { sc.ticks = Y_TICKS.map((v) => ({ value: v })); },
          afterFit: (sc: any) => { sc.width = 78; sc.paddingTop = 0; sc.paddingBottom = 0; },
          grid: {
            drawTicks: true,
            tickLength: 4,
            tickColor: '#333',
            color: (c: any) => (c.tick && c.tick.value === 0 ? '#c4c4c4' : 'rgba(0,0,0,0)'),
            lineWidth: 1.2,
          },
          border: { display: false },
          ticks: { font: { family: FONT, size: 18 }, color: '#333', padding: 6, callback: (v: number) => minusFmt(v) },
        },
      },
      plugins: { legend: { display: false }, tooltip: { enabled: false } },
    },
    plugins: [decor],
  };
}

const B_SPEC: MASpec = {
  letter: 'B', gray: B_GRAY, genes: B_GENES, geneXY: B_GENE_XY, textXY: B_TEXT_XY, pval: B_PVAL,
  extraXY: B_EXTRA_XY, extraP: B_EXTRA_P, upper: 'PROESTRUS', lower: 'ESTRUS', legend: 'PvsE',
  padTop: 8, xAxisH: 33, xTitle: null,
};
const C_SPEC: MASpec = {
  letter: 'C', gray: C_GRAY, genes: C_GENES, geneXY: C_GENE_XY, textXY: C_TEXT_XY, pval: C_PVAL,
  extraXY: C_EXTRA_XY, extraP: C_EXTRA_P, upper: 'METESTRUS', lower: 'ESTRUS', legend: 'MvsE',
  padTop: 5, xAxisH: 57, xTitle: 'base mean',
};

export default function App() {
  const aRef = useRef<HTMLCanvasElement>(null);
  const bRef = useRef<HTMLCanvasElement>(null);
  const cRef = useRef<HTMLCanvasElement>(null);

  useEffect(() => {
    const charts = [
      new Chart(aRef.current as HTMLCanvasElement, barConfig()),
      new Chart(bRef.current as HTMLCanvasElement, maConfig(B_SPEC)),
      new Chart(cRef.current as HTMLCanvasElement, maConfig(C_SPEC)),
    ];
    return () => charts.forEach((c) => c.destroy());
  }, []);

  return (
    <div style={{ position: 'absolute', left: 0, top: 0, width: 1094, height: 1164, background: '#fff', overflow: 'hidden' }}>
      <canvas ref={aRef} width={1094} height={184} style={{ position: 'absolute', left: 0, top: 0 }} />
      <canvas ref={bRef} width={1094} height={477} style={{ position: 'absolute', left: 0, top: 188 }} />
      <canvas ref={cRef} width={1094} height={499} style={{ position: 'absolute', left: 0, top: 665 }} />
    </div>
  );
}
